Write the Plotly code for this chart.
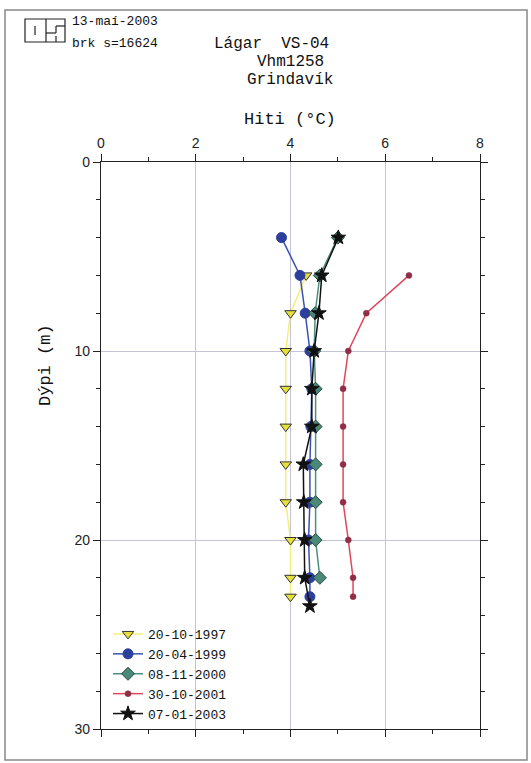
import plotly.graph_objects as go

# ---------------- data ----------------
series_names = ["20-10-1997", "20-04-1999", "08-11-2000", "30-10-2001", "07-01-2003"]

depth_1997 = [6, 8, 10, 12, 14, 16, 18, 20, 22, 23]
temp_1997 = [4.33, 4.0, 3.9, 3.9, 3.9, 3.9, 3.9, 4.0, 4.0, 4.0]

depth_1999 = [4, 6, 8, 10, 12, 14, 16, 18, 20, 22, 23]
temp_1999 = [3.81, 4.2, 4.31, 4.41, 4.45, 4.43, 4.41, 4.41, 4.38, 4.41, 4.41]

depth_2000 = [4, 6, 8, 10, 12, 14, 16, 18, 20, 22]
temp_2000 = [5.0, 4.62, 4.52, 4.5, 4.53, 4.53, 4.53, 4.53, 4.53, 4.62]

depth_2001 = [6, 8, 10, 12, 14, 16, 18, 20, 22, 23]
temp_2001 = [6.5, 5.6, 5.22, 5.11, 5.11, 5.11, 5.11, 5.22, 5.32, 5.32]

depth_2003 = [4, 6, 8, 10, 12, 14, 16, 18, 20, 22, 23.5]
temp_2003 = [5.01, 4.66, 4.6, 4.5, 4.45, 4.45, 4.27, 4.28, 4.3, 4.3, 4.41]

x_ticks = [0, 2, 4, 6, 8]
y_ticks = [0, 10, 20, 30]

title_lines = ["Lágar\u00a0\u00a0VS-04", "Vhm1258", "Grindavík"]
x_title = "Hiti (°C)"
y_title = "Dýpi (m)"
stamp_lines = ["13-maí-2003", "brk s=16624"]

# ---------------- layout geometry ----------------
W, H = 531, 763
L, R, T, B = 101, 480, 162, 729  # plot area in pixels

def px(x):
    return (x - L) / (R - L)

def py(y):
    return (B - y) / (B - T)

MONO = "Liberation Mono"
SANS = "Liberation Sans"

fig = go.Figure()

styles = [
    dict(line=dict(color="#f4ee7a", width=1.5),
         marker=dict(symbol="triangle-down", size=10, color="#e6df3c", line=dict(color="#333333", width=1))),
    dict(line=dict(color="#3b52b0", width=1.5),
         marker=dict(symbol="circle", size=10, color="#2c3f9c", line=dict(color="#2c3f9c", width=1))),
    dict(line=dict(color="#4f8f7f", width=1.5),
         marker=dict(symbol="diamond", size=10, color="#4a8878", line=dict(color="#2a4a40", width=1))),
    dict(line=dict(color="#e0475e", width=1.5),
         marker=dict(symbol="circle", size=6, color="#8e2f45", line=dict(color="#8e2f45", width=0.5))),
    dict(line=dict(color="#111111", width=1.5),
         marker=dict(symbol="star", size=11, color="#111111", line=dict(color="#111111", width=1))),
]
data = [(temp_1997, depth_1997), (temp_1999, depth_1999), (temp_2000, depth_2000),
        (temp_2001, depth_2001), (temp_2003, depth_2003)]

for name, (t, d), st in zip(series_names, data, styles):
    fig.add_trace(go.Scatter(x=t, y=d, name=name, mode="lines+markers", **st))

axis_common = dict(
    showline=True, linecolor="#222222", linewidth=1.2, mirror="allticks",
    ticks="outside", ticklen=7, tickcolor="#222222", tickwidth=1,
    showgrid=True, gridcolor="#c4c4d6", gridwidth=1, zeroline=False,
    tickfont=dict(family=SANS, size=14, color="#222222"),
)

fig.update_xaxes(range=[0, 8], side="top", tickvals=x_ticks,
                 minor=dict(dtick=1, ticks="outside", ticklen=4, tickcolor="#222222", showgrid=False),
                 **axis_common)
fig.update_yaxes(range=[30, 0], tickvals=y_ticks,
                 minor=dict(dtick=2, ticks="outside", ticklen=4, tickcolor="#222222", showgrid=False),
                 **axis_common)

annotations = []
# title lines
title_pos = [(271, 44), (290, 62), (290, 80)]
for txt, (x, y) in zip(title_lines, title_pos):
    annotations.append(dict(text=txt, x=px(x), y=py(y), xref="paper", yref="paper",
                            xanchor="center", yanchor="middle", showarrow=False,
                            font=dict(family=MONO, size=16, color="#111111")))
annotations.append(dict(text=x_title, x=px(290), y=py(120), xref="paper", yref="paper",
                        xanchor="center", yanchor="middle", showarrow=False,
                        font=dict(family=MONO, size=17, color="#111111")))
annotations.append(dict(text=y_title, x=px(45), y=py(365), xref="paper", yref="paper",
                        xanchor="center", yanchor="middle", showarrow=False, textangle=-90,
                        font=dict(family=MONO, size=17, color="#111111")))
for txt, y in zip(stamp_lines, [21, 44]):
    annotations.append(dict(text=txt, x=px(70), y=py(y), xref="paper", yref="paper",
                            xanchor="left", yanchor="middle", showarrow=False,
                            font=dict(family=MONO, size=13, color="#111111")))

shapes = []
def line(x0, y0, x1, y1, w=1.2):
    shapes.append(dict(type="line", xref="paper", yref="paper",
                       x0=px(x0), y0=py(y0), x1=px(x1), y1=py(y1),
                       line=dict(color="#222222", width=w)))

# outer page border
shapes.append(dict(type="rect", xref="paper", yref="paper",
                   x0=px(5), y0=py(10), x1=px(527), y1=py(760),
                   line=dict(color="#888888", width=1.5)))
# logo
shapes.append(dict(type="rect", xref="paper", yref="paper",
                   x0=px(25), y0=py(19), x1=px(65), y1=py(42),
                   line=dict(color="#222222", width=1.2)))
line(46, 19, 46, 42)
line(35, 26, 35, 35)
line(56, 26, 65, 26)
line(46, 33, 56, 33)
line(56, 26, 56, 33)
line(56, 36, 56, 42)

fig.update_layout(
    width=W, height=H,
    margin=dict(l=L, r=W - R, t=T, b=H - B),
    paper_bgcolor="white", plot_bgcolor="white",
    showlegend=True,
    legend=dict(x=px(108), y=py(619), xanchor="left", yanchor="top",
                bgcolor="rgba(0,0,0,0)", borderwidth=0,
                font=dict(family=MONO, size=13, color="#111111"),
                tracegroupgap=0),
    annotations=annotations,
    shapes=shapes,
)

fig.write_html("out.html")
